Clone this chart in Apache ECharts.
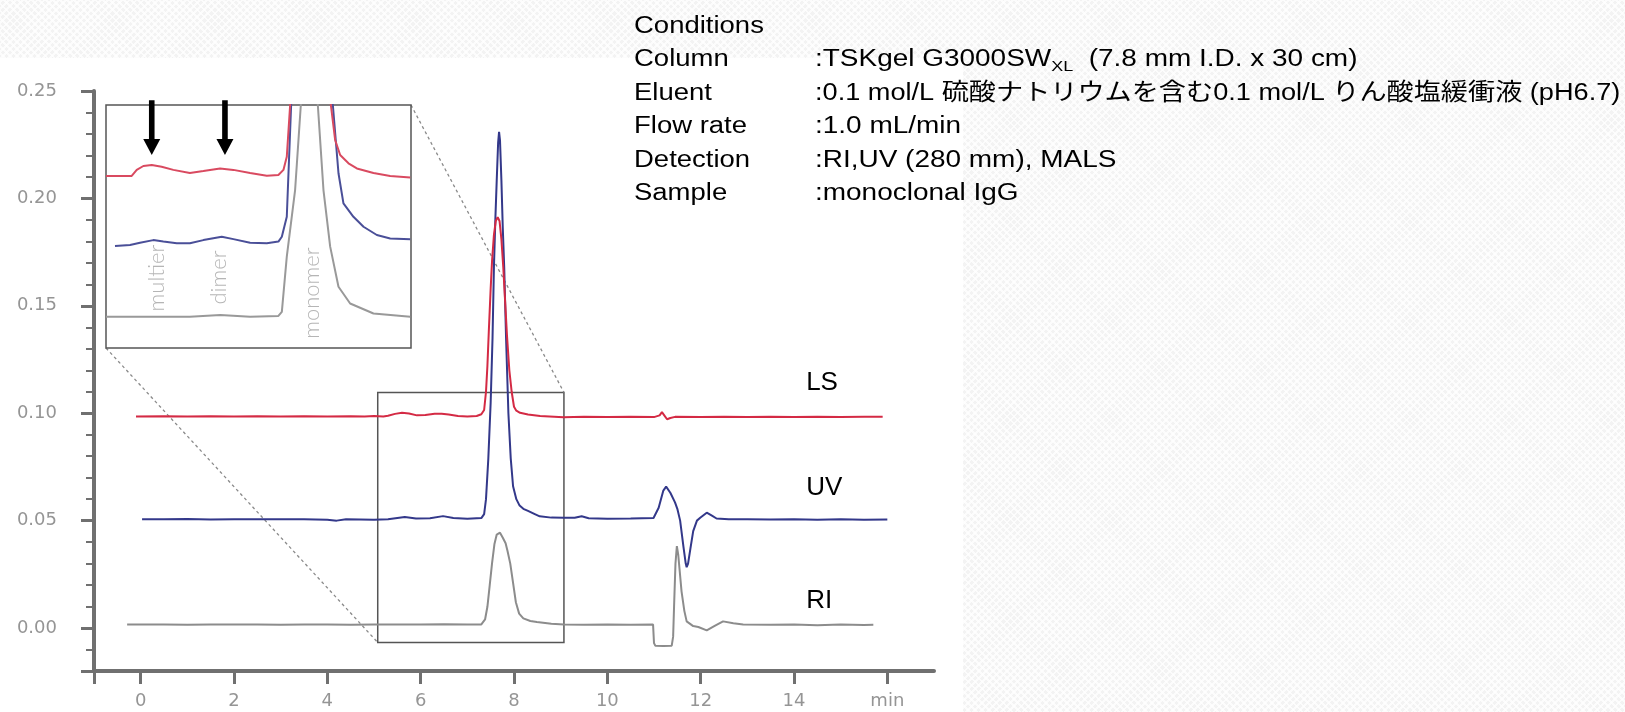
<!DOCTYPE html>
<html><head><meta charset="utf-8">
<script src="https://cdn.jsdelivr.net/npm/echarts@6/dist/echarts.min.js"></script>
<style>
html,body{margin:0;padding:0;width:1625px;height:712px;overflow:hidden;}
body{background-color:#f3f3f3;background-image:repeating-linear-gradient(45deg,rgba(255,255,255,0.75) 0 2px,transparent 2px 5px),repeating-linear-gradient(-45deg,rgba(255,255,255,0.75) 0 2px,transparent 2px 5px);}
#panel{position:absolute;left:0;top:58px;width:963px;height:654px;background:#fff;}
#chart{position:absolute;left:0;top:0;width:1625px;height:712px;}
#err{position:absolute;left:10px;top:10px;font:13px monospace;color:#c00;white-space:pre-wrap;z-index:10}
</style></head><body><div id="panel"></div><div id="chart"></div><div id="err"></div>
<script>
// ---------- data ----------
const xTickValues = [0,2,4,6,8,10,12,14,16];
const xTickLabels = ['0','2','4','6','8','10','12','14','min'];
const yTickValues = [0,0.05,0.10,0.15,0.20,0.25];
const yTickLabels = ['0.00','0.05','0.10','0.15','0.20','0.25'];
const yMinorTicks = [-0.01,0.01,0.02,0.03,0.04,0.06,0.07,0.08,0.09,0.11,0.12,0.13,0.14,0.16,0.17,0.18,0.19,0.21,0.22,0.23,0.24];

const lsTime = [-0.1,0.5,1,1.5,2,2.5,3,3.5,4,4.5,4.8,5.0,5.2,5.3,5.45,5.6,5.75,5.92,6.1,6.3,6.45,6.6,6.8,7.0,7.2,7.3,7.36,7.40,7.43,7.46,7.50,7.53,7.57,7.61,7.65,7.69,7.73,7.77,7.81,7.85,7.90,7.95,8.0,8.05,8.13,8.3,8.56,9.06,9.5,10,10.5,11,11.12,11.17,11.22,11.28,11.35,11.45,12,12.5,13,13.5,14,14.5,15,15.5,15.9];
const lsSignal = [0.0985,0.0986,0.0985,0.0986,0.0985,0.0986,0.0985,0.0986,0.0985,0.0986,0.0985,0.0987,0.0985,0.0988,0.0997,0.1002,0.0999,0.0990,0.0992,0.0997,0.0998,0.0994,0.0987,0.0985,0.0987,0.0995,0.1015,0.110,0.122,0.138,0.158,0.171,0.183,0.1895,0.1913,0.1895,0.181,0.168,0.152,0.136,0.120,0.110,0.103,0.1012,0.1002,0.0994,0.0987,0.0981,0.0983,0.0982,0.0983,0.0982,0.0990,0.1005,0.0990,0.0972,0.0978,0.0983,0.0982,0.0983,0.0982,0.0983,0.0982,0.0983,0.0982,0.0983,0.0983];

const uvTime = [0.03,0.5,1,1.5,2,2.5,3,3.5,4,4.2,4.4,5,5.3,5.66,5.9,6.2,6.48,6.7,7.0,7.3,7.36,7.40,7.45,7.50,7.54,7.57,7.60,7.63,7.66,7.68,7.70,7.73,7.76,7.79,7.83,7.88,7.93,7.98,8.05,8.12,8.2,8.3,8.4,8.55,8.8,9.07,9.3,9.45,9.6,10,10.5,10.99,11.1,11.2,11.26,11.35,11.45,11.5,11.56,11.63,11.68,11.70,11.73,11.78,11.84,11.92,11.99,12.13,12.25,12.34,12.6,13,13.5,14,14.5,15,15.5,16];
const uvSignal = [0.0507,0.0506,0.0508,0.0505,0.0507,0.0506,0.0507,0.0506,0.0504,0.0500,0.0506,0.0504,0.0506,0.0517,0.0510,0.0511,0.0521,0.0512,0.0509,0.0512,0.053,0.060,0.079,0.105,0.135,0.168,0.190,0.2085,0.226,0.231,0.227,0.2085,0.186,0.168,0.135,0.100,0.079,0.066,0.060,0.057,0.0555,0.0545,0.0535,0.052,0.0514,0.0513,0.0513,0.0520,0.0511,0.0509,0.0510,0.0512,0.056,0.064,0.0658,0.063,0.0585,0.0555,0.050,0.038,0.030,0.0283,0.030,0.037,0.0451,0.050,0.0513,0.0537,0.0522,0.0510,0.0506,0.0506,0.0505,0.0506,0.0504,0.0506,0.0504,0.0505];

const riTime = [-0.29,0.5,1,1.5,2,2.5,3,3.5,4,4.5,5,5.5,6,6.5,7,7.3,7.38,7.43,7.48,7.53,7.58,7.63,7.70,7.76,7.82,7.86,7.92,7.98,8.04,8.11,8.2,8.35,8.49,8.8,9.07,9.5,10,10.5,10.98,11.0,11.03,11.2,11.38,11.41,11.43,11.46,11.49,11.52,11.59,11.65,11.70,11.84,11.95,12.13,12.3,12.48,12.7,12.91,13.5,14,14.5,15,15.5,15.7];
const riSignal = [0.0016,0.0017,0.0015,0.0017,0.0016,0.0017,0.0015,0.0016,0.0017,0.0015,0.0016,0.0017,0.0016,0.0018,0.0016,0.0017,0.004,0.0099,0.020,0.0302,0.039,0.0435,0.0444,0.042,0.0395,0.036,0.030,0.021,0.012,0.0067,0.0045,0.0033,0.0028,0.0020,0.0016,0.0015,0.0016,0.0015,0.0016,-0.007,-0.0083,-0.0084,-0.0082,-0.0040,0.010,0.030,0.0381,0.034,0.0171,0.008,0.0031,0.0009,0.0005,-0.0011,0.0010,0.0031,0.0022,0.0016,0.0015,0.0016,0.0013,0.0016,0.0014,0.0015];

// zoomed region shown in the inset: [xMin, xMax], [yMin, yMax]
const zoomX = [5.08, 9.07];
const zoomY = [-0.0067, 0.1097];

// inset (expanded view, relative units 0-100)
const insetLsTime = [5.10,5.437,5.503,5.59,5.70,5.83,5.983,6.20,6.377,6.596,6.771,6.99,7.209,7.361,7.427,7.471,7.515,7.56,7.65,7.75,7.90,8.00,8.049,8.105,8.171,8.28,8.39,8.608,8.827,9.09];
const insetLsValue = [70.8,70.8,73.3,74.9,75.3,74.6,73.3,72.0,72.8,73.9,73.3,72.0,70.9,71.2,73.3,78.7,100,140,175,175,140,110,100,85.6,79.4,76.0,73.9,72.0,70.8,70.2];
const insetUvTime = [5.218,5.415,5.546,5.72,5.852,6.028,6.20,6.377,6.618,6.771,6.99,7.209,7.361,7.406,7.471,7.528,7.57,7.65,7.75,7.90,8.00,8.075,8.149,8.214,8.345,8.477,8.652,8.827,9.09];
const insetUvValue = [42.0,42.4,43.3,44.4,43.8,43.1,43.1,44.4,45.8,44.8,43.3,43.1,43.8,45.8,54.0,100,150,200,200,150,115,100,71.9,59.5,54.0,49.9,46.5,45.1,44.8];
const insetRiTime = [5.10,6.20,6.60,6.99,7.361,7.406,7.471,7.58,7.655,7.70,7.83,7.878,7.952,8.04,8.149,8.302,8.608,9.09];
const insetRiValue = [12.9,12.9,13.6,12.9,13.2,14.9,37.6,65.0,100,120,120,100,65.0,41.7,25.2,18.3,14.2,12.9];
const insetRange = [5.1, 9.1];
const insetPeakNames = ['multier','dimer','monomer'];
const insetPeakX = [5.765, 6.583, 7.80];
const insetPeakY = [28.8, 29.0, 22.6];
const arrowX = [5.70, 6.66];
const arrowTipY = 79.4;
const arrowTopY = 102;

const seriesNames = ['LS','UV','RI'];
const seriesLabelPos = [[14.26,0.114],[14.26,0.0651],[14.26,0.0125]];

const condLabels = ['Conditions','Column','Eluent','Flow rate','Detection','Sample'];
const condValues = ['', [':TSKgel G3000SW','XL','  (7.8 mm I.D. x 30 cm)'], ':0.1 mol/L 硫酸ナトリウムを含む0.1 mol/L りん酸塩緩衝液 (pH6.7)', ':1.0 mL/min', ':RI,UV (280 mm), MALS', ':monoclonal IgG'];

// ---------- styles ----------
const C_LS = '#d42a44', C_UV = '#33388a', C_RI = '#8c8c8c';
const AXIS_C = '#707070', LABEL_C = '#959595';
const TICK_FONT = '"DejaVu Sans", Verdana, sans-serif';
const TXT_FONT = '"Liberation Sans", Arial, "Noto Sans CJK JP", sans-serif';
const zip = (a, b) => a.map((v, i) => [v, b[i]]);

try {
const chart = echarts.init(document.getElementById('chart'), null, {renderer: 'canvas'});

const lineSeries = (name, t, v, color, xi, yi, z) => ({
  name, type: 'line', xAxisIndex: xi, yAxisIndex: yi, data: zip(t, v),
  showSymbol: false, symbol: 'none', clip: true, z,
  lineStyle: {color, width: 2}, animation: false
});

const option = {
  animation: false,
  backgroundColor: 'transparent',
  grid: [
    {left: 94, top: 91, width: 840, height: 580},
    {left: 106, top: 105, width: 305, height: 243, show: true, backgroundColor: '#fff', borderColor: '#555', borderWidth: 1.5, z: 5}
  ],
  xAxis: [
    {type: 'value', gridIndex: 0, min: -1, max: 17,
     axisLine: {onZero: false, lineStyle: {color: AXIS_C, width: 4}},
     axisTick: {customValues: [-1].concat(xTickValues), length: 13, lineStyle: {color: AXIS_C, width: 3}},
     axisLabel: {customValues: xTickValues, margin: 21, color: LABEL_C, fontSize: 18, fontFamily: TICK_FONT,
       formatter: v => xTickLabels[xTickValues.indexOf(v)]},
     splitLine: {show: false}},
    {type: 'value', gridIndex: 1, min: insetRange[0], max: insetRange[1], show: false}
  ],
  yAxis: [
    {type: 'value', gridIndex: 0, min: -0.02, max: 0.25,
     axisLine: {show: true, onZero: false, lineStyle: {color: AXIS_C, width: 4}},
     axisTick: {show: true, customValues: [-0.02].concat(yTickValues), length: 13, lineStyle: {color: AXIS_C, width: 3}},
     axisLabel: {customValues: yTickValues, margin: 37, color: LABEL_C, fontSize: 18, fontFamily: TICK_FONT,
       formatter: v => yTickLabels[yTickValues.indexOf(Math.round(v*100)/100)]},
     splitLine: {show: false}},
    {type: 'value', gridIndex: 0, min: -0.02, max: 0.25, position: 'left',
     axisLine: {show: false, onZero: false},
     axisTick: {show: true, customValues: yMinorTicks, length: 8, lineStyle: {color: AXIS_C, width: 2}},
     axisLabel: {show: false}, splitLine: {show: false}},
    {type: 'value', gridIndex: 1, min: 0, max: 100, show: false}
  ],
  series: [
    lineSeries('RI', riTime, riSignal, C_RI, 0, 0, 2),
    Object.assign(lineSeries('UV', uvTime, uvSignal, C_UV, 0, 0, 3), {
      markArea: {silent: true, itemStyle: {color: 'rgba(0,0,0,0)', borderColor: '#555', borderWidth: 1.5},
        data: [[{coord: [zoomX[0], zoomY[1]]}, {coord: [zoomX[1], zoomY[0]]}]]}
    }),
    lineSeries('LS', lsTime, lsSignal, C_LS, 0, 0, 4),
    lineSeries('RI inset', insetRiTime, insetRiValue, '#999999', 1, 2, 6),
    lineSeries('UV inset', insetUvTime, insetUvValue, '#4a4f98', 1, 2, 7),
    lineSeries('LS inset', insetLsTime, insetLsValue, '#d94a60', 1, 2, 8),
    {type: 'scatter', xAxisIndex: 1, yAxisIndex: 2, symbolSize: 0, z: 9, silent: true,
     data: insetPeakNames.map((n, i) => ({name: n, value: [insetPeakX[i], insetPeakY[i]]})),
     label: {show: true, position: 'inside', rotate: 90, formatter: p => p.name, color: '#a3a3a3', fontSize: 22, fontWeight: 300, fontFamily: 'Lato, "Open Sans", sans-serif'}}
  ]
};
chart.setOption(option);

// ---------- overlays positioned through the axes ----------
const px = (g, pt) => chart.convertToPixel({gridIndex: g}, pt);
const graphics = [];
const insBL = px(1, [insetRange[0], 0]), insTR = px(1, [insetRange[1], 100]);
const zBL = px(0, [zoomX[0], zoomY[0]]), zTR = px(0, [zoomX[1], zoomY[1]]);
[[insBL, zBL], [insTR, zTR]].forEach(([a, b]) => graphics.push({
  type: 'line', z: 1, silent: true,
  shape: {x1: a[0], y1: a[1], x2: b[0], y2: b[1]},
  style: {stroke: '#8a8a8a', lineWidth: 1.3, lineDash: [3, 3]}
}));
arrowX.forEach(x => {
  const top = px(1, [x, arrowTopY]), tip = px(1, [x, arrowTipY]);
  const hw = 8.5, sw = 2.8, hl = 16;
  graphics.push({type: 'polygon', z: 20, silent: true, shape: {points: [
    [top[0]-sw, top[1]], [top[0]+sw, top[1]], [top[0]+sw, tip[1]-hl], [top[0]+hw, tip[1]-hl],
    [tip[0], tip[1]], [top[0]-hw, tip[1]-hl], [top[0]-sw, tip[1]-hl]]}, style: {fill: '#000'}});
});
seriesNames.forEach((n, i) => {
  const p = px(0, seriesLabelPos[i]);
  graphics.push({type: 'text', z: 20, silent: true, x: p[0], y: p[1],
    style: {text: n, fill: '#000', font: '26px ' + TXT_FONT, textAlign: 'left', textVerticalAlign: 'middle'}});
});
// conditions block (horizontally widened lettering as in the original)
const cv = document.createElement('canvas').getContext('2d');
const fs = 23.3, sxLabel = 1.18, sxLatin = 1.2, sxCjk = 1.165;
const mainFont = fs + 'px ' + TXT_FONT, subFont = '15px ' + TXT_FONT;
const rowY0 = 26.5, rowStep = 33.4, labX = 634, valX = 815;
const hasCjk = s => /[\u3000-\u9fff]/.test(s);
const txt = (text, x, y, font, sx) => ({type: 'text', z: 20, silent: true, x, y, scaleX: sx,
  style: {text, fill: '#000', font, textVerticalAlign: 'middle'}});
const w = (s, f, sx) => { cv.font = f; return cv.measureText(s).width * sx; };
condLabels.forEach((lab, i) => {
  const y = rowY0 + i * rowStep;
  graphics.push(txt(lab, labX, y, mainFont, sxLabel));
  const v = condValues[i];
  if (Array.isArray(v)) {
    let x = valX;
    graphics.push(txt(v[0], x, y, mainFont, sxLatin)); x += w(v[0], mainFont, sxLatin);
    graphics.push(txt(v[1], x, y + 7, subFont, sxLatin)); x += w(v[1], subFont, sxLatin);
    graphics.push(txt(v[2], x, y, mainFont, sxLatin));
  } else if (v) {
    graphics.push(txt(v, valX, y, mainFont, hasCjk(v) ? sxCjk : sxLatin));
  }
});
chart.setOption({graphic: {elements: graphics}});
} catch (e) { document.getElementById('err').textContent = e.message + '\n' + e.stack; }
</script></body></html>
